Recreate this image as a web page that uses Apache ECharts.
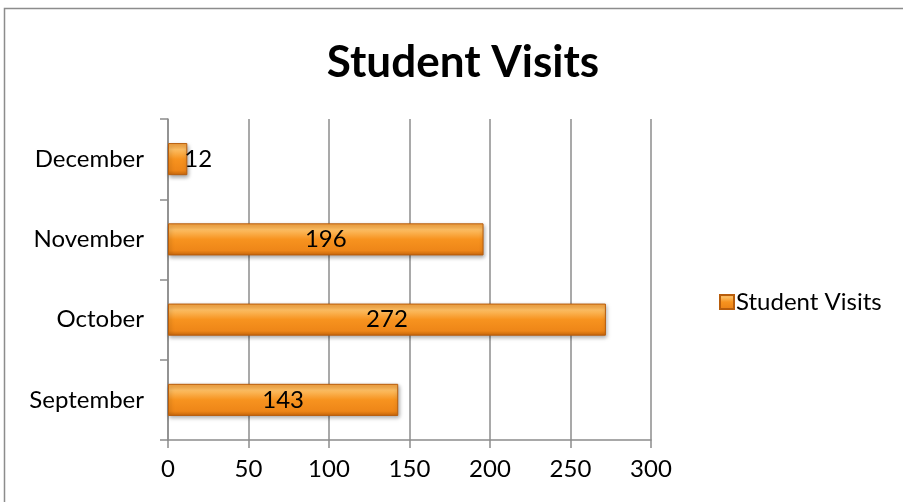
<!DOCTYPE html>
<html>
<head>
<meta charset="utf-8">
<script src="https://cdn.jsdelivr.net/npm/echarts@6/dist/echarts.min.js"></script>
<style>html,body{margin:0;padding:0;background:#fff}#c{width:903px;height:502px}</style>
</head>
<body>
<div id="c"></div>
<script>
var categories = ['September', 'October', 'November', 'December'];
var visits = [143, 272, 196, 12];
var xTicks = [0, 50, 100, 150, 200, 250, 300];

var chart = echarts.init(document.getElementById('c'));
var font = 'Lato, "Open Sans", sans-serif';
var barColor = new echarts.graphic.LinearGradient(0, 0, 0, 1, [
  {offset: 0, color: '#f7a23e'},
  {offset: 0.2, color: '#fcbd62'},
  {offset: 0.5, color: '#f7931f'},
  {offset: 0.85, color: '#ee8618'},
  {offset: 1, color: '#c9670c'}
]);
chart.setOption({
  animation: false,
  graphic: [{
    type: 'rect', shape: {x: 4.5, y: 8.5, width: 1000, height: 600},
    style: {fill: 'none', stroke: '#8c8c8c', lineWidth: 1.5}, silent: true
  }],
  title: {
    text: 'Student Visits', left: 458, top: 36, textAlign: 'center',
    textStyle: {fontFamily: font, fontWeight: 'bold', fontSize: 44, color: '#000'}
  },
  legend: {
    data: ['Student Visits'], orient: 'vertical', left: 714, top: 285,
    itemWidth: 14, itemHeight: 14, itemGap: 6,
    icon: 'rect',
    textStyle: {fontFamily: font, fontSize: 24, color: '#000', padding: [0, 0, 0, -3]}
  },
  grid: {left: 168, right: 252, top: 119, bottom: 62, containLabel: false},
  xAxis: {
    type: 'value', min: 0, max: 300, interval: 50,
    axisLine: {show: true, lineStyle: {color: '#8c8c8c', width: 1.5}},
    axisTick: {show: true, length: 8, lineStyle: {color: '#8c8c8c', width: 1.5}},
    splitLine: {show: true, lineStyle: {color: '#8c8c8c', width: 1.5}},
    axisLabel: {fontFamily: font, fontSize: 24, color: '#000', margin: 17,
      formatter: function (v) { return xTicks.indexOf(v) >= 0 ? String(v) : ''; }}
  },
  yAxis: {
    type: 'category', data: categories,
    axisLine: {show: true, lineStyle: {color: '#8c8c8c', width: 1.5}},
    axisTick: {show: true, length: 8, lineStyle: {color: '#8c8c8c', width: 1.5}},
    axisLabel: {fontFamily: font, fontSize: 24, color: '#000', margin: 24}
  },
  series: [{
    name: 'Student Visits', type: 'bar', barCategoryGap: '60%',
    data: visits.map(function (v) {
      return {
        value: v,
        label: v < 30 ? {position: 'right', distance: -3} : {position: 'inside'}
      };
    }),
    itemStyle: {
      color: barColor, borderColor: '#b85d0c', borderWidth: 1,
      shadowColor: 'rgba(0,0,0,0.35)', shadowBlur: 4, shadowOffsetX: 1, shadowOffsetY: 2
    },
    label: {show: true, fontFamily: font, fontSize: 24, color: '#000'}
  }]
});
</script>
</body>
</html>
